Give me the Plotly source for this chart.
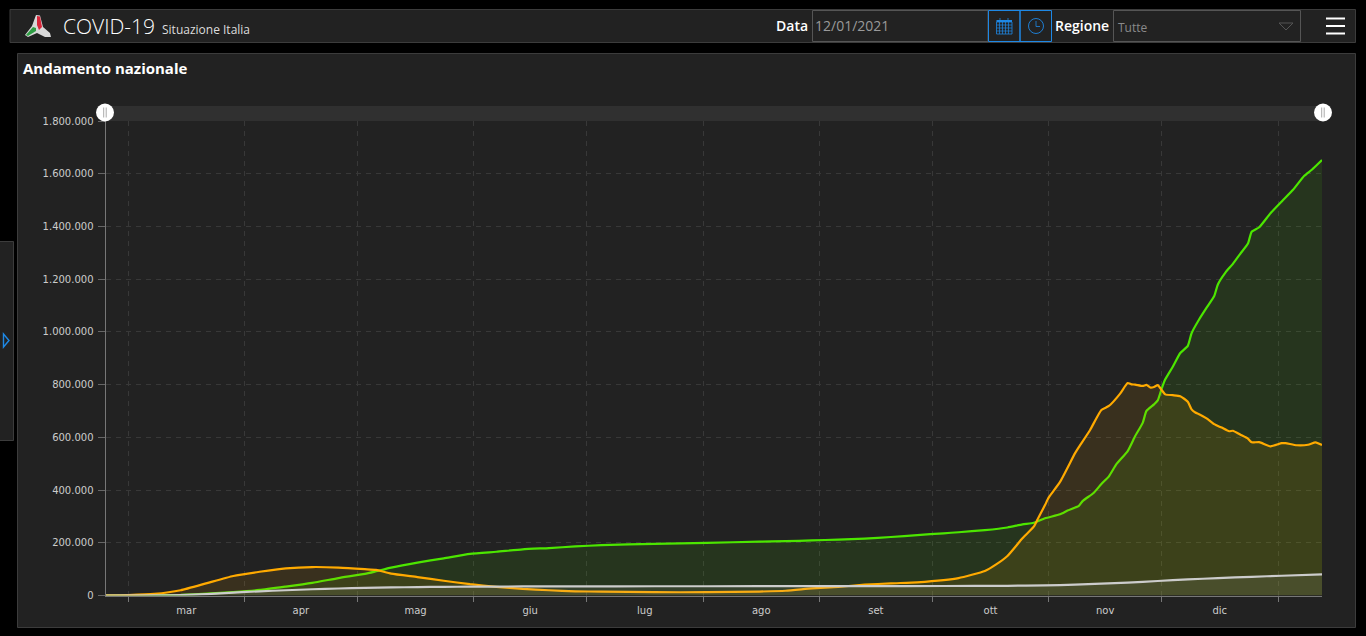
import plotly.graph_objects as go

W, H = 1366, 636

# orange: attualmente positivi
ORANGE_DATES = ["2020-02-24", "2020-03-01", "2020-03-08", "2020-03-15", "2020-03-22", "2020-03-29",
                "2020-04-05", "2020-04-12", "2020-04-19", "2020-04-26", "2020-05-03", "2020-05-06",
                "2020-05-10", "2020-05-17", "2020-05-24", "2020-05-31", "2020-06-07", "2020-06-14",
                "2020-06-21", "2020-06-28", "2020-07-05", "2020-07-19", "2020-08-02", "2020-08-16",
                "2020-08-23", "2020-08-30", "2020-09-06", "2020-09-13", "2020-09-20", "2020-09-27",
                "2020-10-04", "2020-10-08", "2020-10-15", "2020-10-18", "2020-10-21", "2020-10-25", "2020-10-28",
                "2020-10-29", "2020-10-31", "2020-11-01", "2020-11-04", "2020-11-08", "2020-11-09", "2020-11-12",
                "2020-11-15", "2020-11-17", "2020-11-20", "2020-11-22", "2020-11-23", "2020-11-24",
                "2020-11-26", "2020-11-27", "2020-11-28", "2020-11-29", "2020-11-30", "2020-12-01",
                "2020-12-02", "2020-12-04", "2020-12-06", "2020-12-08", "2020-12-09", "2020-12-10",
                "2020-12-11", "2020-12-13", "2020-12-15", "2020-12-17", "2020-12-19", "2020-12-20",
                "2020-12-22", "2020-12-24", "2020-12-25", "2020-12-27", "2020-12-30", "2021-01-02",
                "2021-01-03", "2021-01-06", "2021-01-09", "2021-01-11", "2021-01-12 17:00"]
ORANGE_VALUES = [200, 1500, 6000, 20000, 47000, 74000, 90000, 103000, 108000, 106000, 100000, 97000,
                 83000, 70000, 56000, 43000, 33000, 25000, 20000, 16000, 14500, 12500, 12500, 15000,
                 18000, 27000, 33000, 41000, 46000, 50000, 58000, 66000, 93000, 118000, 150000, 217000, 261000,
                 288000, 343000, 372000, 431000, 540000, 563000, 628000, 704000, 719000, 766000, 806000, 801000, 800000,
                 795000, 799000, 789000, 791000, 798000, 780000,
                 763000, 760000, 756000, 735000, 706000, 694000,
                 688000, 672000, 650000, 637000, 623000, 625000,
                 610000, 595000, 581000, 582000, 566000, 578000,
                 578000, 570000, 572000, 581000, 571000]

# green: dimessi guariti
GREEN_DATES = ["2020-02-24", "2020-03-01", "2020-03-08", "2020-03-15", "2020-03-22", "2020-03-29",
               "2020-04-05", "2020-04-12", "2020-04-19", "2020-04-26", "2020-05-03", "2020-05-06",
               "2020-05-10", "2020-05-17", "2020-05-24", "2020-05-31", "2020-06-07", "2020-06-14",
               "2020-06-21", "2020-06-28", "2020-07-05", "2020-07-19", "2020-08-02", "2020-08-16",
               "2020-08-23", "2020-08-30", "2020-09-06", "2020-09-13", "2020-09-20", "2020-09-27",
               "2020-10-04", "2020-10-08", "2020-10-15", "2020-10-21", "2020-10-25", "2020-10-28",
               "2020-10-31", "2020-11-04", "2020-11-06", "2020-11-09", "2020-11-10", "2020-11-13",
               "2020-11-15", "2020-11-17", "2020-11-19", "2020-11-22", "2020-11-24", "2020-11-26",
               "2020-11-27", "2020-11-29", "2020-11-30",
               "2020-12-01", "2020-12-02", "2020-12-04", "2020-12-06", "2020-12-08", "2020-12-09",
               "2020-12-11", "2020-12-13", "2020-12-15", "2020-12-16", "2020-12-18", "2020-12-20",
               "2020-12-22", "2020-12-24", "2020-12-25", "2020-12-27", "2020-12-30", "2021-01-02",
               "2021-01-05", "2021-01-08", "2021-01-10", "2021-01-12 17:00"]
GREEN_VALUES = [0, 100, 600, 2300, 7000, 13000, 21000, 34000, 48000, 66000, 82000, 92000,
                106000, 125000, 141000, 158000, 166000, 175000, 180000, 186000, 191000, 196000, 200000, 204000,
                206000, 209000, 212000, 216000, 222000, 229000, 236000, 240000, 248000, 258000, 270000, 276000,
                293000, 308000, 322000, 340000, 358000, 390000,
                423000, 452000, 498000, 548000, 605000, 655000,
                700000, 725000, 740000,
                783000, 820000, 868000, 920000, 947000, 995000,
                1047000, 1092000, 1135000, 1180000, 1225000, 1258000,
                1297000, 1335000, 1380000, 1397000, 1450000, 1495000,
                1539000, 1592000, 1615000, 1652000]

# grey: deceduti
GREY_DATES = ["2020-02-24", "2020-03-08", "2020-03-15", "2020-03-22", "2020-03-29", "2020-04-05",
              "2020-04-12", "2020-04-19", "2020-04-26", "2020-05-03", "2020-05-10", "2020-05-17",
              "2020-05-24", "2020-05-31", "2020-06-14", "2020-06-28", "2020-07-19", "2020-08-16",
              "2020-09-13", "2020-10-04", "2020-10-21", "2020-10-31", "2020-11-08", "2020-11-15",
              "2020-11-22", "2020-11-30", "2020-12-08", "2020-12-16", "2020-12-25", "2021-01-02",
              "2021-01-12 17:00"]
GREY_VALUES = [0, 400, 1800, 5500, 10800, 15900, 19900, 23700, 26600, 28900, 30500, 31900,
               32800, 33400, 34300, 34700, 35000, 35200, 35600, 36000, 36800, 38600, 41000, 45000,
               49000, 55000, 61000, 66000, 71000, 75000, 80000]

MONTHS = ["gen", "feb", "mar", "apr", "mag", "giu", "lug", "ago", "set", "ott", "nov", "dic"]
LONG_MONTHS = ["gennaio", "febbraio", "marzo", "aprile", "maggio", "giugno",
               "luglio", "agosto", "settembre", "ottobre", "novembre", "dicembre"]

BLUE = "#1e88e5"
BOX = "#555555"
PANEL = "#222222"
EDGE = "#3c3c3c"
GRID = "#383838"


def px(x):
    return x / W


def py(y):
    return 1 - y / H


def rect(x0, y0, x1, y1, fill="rgba(0,0,0,0)", line=None, width=1, layer="below"):
    return dict(type="rect", xref="paper", yref="paper", x0=px(x0), x1=px(x1), y0=py(y0), y1=py(y1),
                fillcolor=fill, line=dict(color=line or "rgba(0,0,0,0)", width=width if line else 0), layer=layer)


def seg(x0, y0, x1, y1, color, width=1, layer="below"):
    return dict(type="line", xref="paper", yref="paper", x0=px(x0), x1=px(x1), y0=py(y0), y1=py(y1),
                line=dict(color=color, width=width), layer=layer)


def poly(points, fill="rgba(0,0,0,0)", line=None, width=1, layer="above"):
    d = "M" + " L".join(f"{px(a):.5f},{py(b):.5f}" for a, b in points) + " Z"
    return dict(type="path", path=d, xref="paper", yref="paper", fillcolor=fill,
                line=dict(color=line or "rgba(0,0,0,0)", width=width if line else 0), layer=layer)


def circle(cx, cy, r, fill="rgba(0,0,0,0)", line=None, width=1, layer="above"):
    return dict(type="circle", xref="paper", yref="paper", x0=px(cx - r), x1=px(cx + r),
                y0=py(cy + r), y1=py(cy - r), fillcolor=fill,
                line=dict(color=line or "rgba(0,0,0,0)", width=width if line else 0), layer=layer)


def label(x, y, text, size, color="#ffffff", anchor="left", family="Open Sans", weight=400):
    # annotations sit about 2px inside their anchor
    return dict(xref="paper", yref="paper", x=px(x), y=py(y), text=text, showarrow=False,
                xanchor=anchor, yanchor="middle", xshift=-2 if anchor == "left" else 2,
                font=dict(size=size, color=color, family=family, weight=weight))


fig = go.Figure()
fig.add_trace(go.Scatter(x=GREEN_DATES, y=GREEN_VALUES, mode="lines", fill="tozeroy",
                         line=dict(color="#4ce600", width=2.2, shape="spline", smoothing=0.5),
                         fillcolor="rgba(76,230,0,0.1)"))
fig.add_trace(go.Scatter(x=ORANGE_DATES, y=ORANGE_VALUES, mode="lines", fill="tozeroy",
                         line=dict(color="#ffaa00", width=2.2, shape="spline", smoothing=0.5),
                         fillcolor="rgba(255,170,0,0.105)"))
fig.add_trace(go.Scatter(x=GREY_DATES, y=GREY_VALUES, mode="lines", fill="tozeroy",
                         line=dict(color="#cccccc", width=2.2, shape="spline", smoothing=0.5),
                         fillcolor="rgba(200,200,200,0.1)"))

shapes = [
    # panels
    rect(10, 9.5, 1355.5, 42.5, fill=PANEL, line=EDGE),
    rect(17.5, 53.5, 1355.5, 627.5, fill=PANEL, line=EDGE),
    rect(-2, 241.5, 13.5, 440.5, fill=PANEL, line=EDGE),
    poly([(3.5, 334), (9, 340.5), (3.5, 347)], line=BLUE, width=1.4),
    # slider band
    rect(105, 106, 1322, 121, fill="#303030"),
    seg(105.5, 112, 105.5, 121, "#777777"),
    # inputs
    rect(812.5, 10.5, 988, 41.5, line=BOX),
    rect(1113.5, 10.5, 1300.5, 41.5, line=BOX),
    rect(988.5, 10.5, 1020, 41.5, line=BLUE),
    rect(1020, 10.5, 1051.5, 41.5, line=BLUE),
    poly([(1279, 23), (1293, 23), (1286, 30)], line="#555555"),
    # calendar icon
    rect(996.5, 22, 1012, 34, line=BLUE, width=0.8),
    rect(996.5, 20, 1012, 22, fill=BLUE),
    seg(1000, 18, 1000, 20, BLUE, 0.8),
    seg(1008, 18, 1008, 20, BLUE, 0.8),
    # clock icon
    circle(1036, 26, 7.5, line=BLUE, width=0.9),
    seg(1036, 21, 1036, 26.5, BLUE, 0.8),
    seg(1036, 26.5, 1040, 26.5, BLUE, 0.8),
    # menu
    seg(1326, 18.5, 1345, 18.5, "#ffffff", 2),
    seg(1326, 26, 1345, 26, "#ffffff", 2),
    seg(1326, 33.5, 1345, 33.5, "#ffffff", 2),
    # logo
    poly([(36, 15), (40, 15.5), (43, 27), (50, 33), (51, 37), (45, 37), (37, 33), (28, 37), (25, 35), (32, 26)],
         fill="#d8d8d8"),
    poly([(37, 16), (40, 16.5), (42, 27), (39, 30), (37, 25)], fill="#d8263a"),
    poly([(26, 35), (33, 27), (36, 28), (36, 31), (28, 36)], fill="#2e9e44"),
    # slider handles
    circle(105, 112.5, 9, fill="#ffffff"),
    circle(1323, 112.5, 9, fill="#ffffff"),
    seg(103.7, 107.5, 103.7, 117.5, "#aaaaaa", layer="above"),
    seg(106.2, 107.5, 106.2, 117.5, "#aaaaaa", layer="above"),
    seg(1321.7, 107.5, 1321.7, 117.5, "#aaaaaa", layer="above"),
    seg(1324.2, 107.5, 1324.2, 117.5, "#aaaaaa", layer="above"),
]
# calendar grid
for gx in [999.5, 1002.5, 1005.5, 1008.5]:
    shapes.append(seg(gx, 22, gx, 34, BLUE, 0.7))
for gy in [25, 28, 31]:
    shapes.append(seg(996.5, gy, 1012, gy, BLUE, 0.7))

annotations = [
    label(63, 26, "COVID-19", 21, family="Open Sans", weight=300),
    label(162, 29, "Situazione Italia", 12, color="#dddddd"),
    label(23, 68, "Andamento nazionale", 15, weight=700),
    label(808, 26, "Data", 14, anchor="right", weight=600),
    label(815, 25.5, "12/01/2021", 14, color="#9a9a9a"),
    label(1055, 26, "Regione", 14, weight=600),
    label(1118, 27, "Tutte", 12, color="#8a8a8a"),
]

fig.update_layout(
    width=W, height=H, autosize=False,
    margin=dict(l=0, r=0, t=0, b=0, pad=0, autoexpand=False),
    paper_bgcolor="#000000", plot_bgcolor="rgba(0,0,0,0)",
    showlegend=False, separators=",.",
    shapes=shapes, annotations=annotations,
)
fig.update_xaxes(
    type="date", domain=[105.5 / W, 1322 / W], range=["2020-02-24", "2021-01-12 17:00"],
    dtick="M1", tick0="2020-03-01", tickformat="%b", ticklabelmode="period",
    ticks="outside", ticklen=5, tickcolor="#777777", tickfont=dict(family="DejaVu Sans", size=10, color="#cccccc"),
    showgrid=True, gridcolor=GRID, griddash="5px,5px", gridwidth=1,
    showline=True, linecolor="#777777", zeroline=False,
)
fig.update_yaxes(
    domain=[1 - 595.5 / H, 1 - 121 / H], range=[0, 1800000], dtick=200000, tickformat=",d",
    ticks="outside", ticklen=7, tickcolor="#666666", ticklabelstandoff=2,
    tickfont=dict(family="DejaVu Sans", size=10, color="#cccccc"),
    showgrid=True, gridcolor=GRID, griddash="5px,5px", gridwidth=1,
    showline=True, linecolor="#777777", zeroline=False,
)

locale_it = dict(name="it", dictionary={}, format=dict(
    months=LONG_MONTHS, shortMonths=MONTHS,
    days=["domenica", "lunedì", "martedì", "mercoledì", "giovedì", "venerdì", "sabato"],
    shortDays=["dom", "lun", "mar", "mer", "gio", "ven", "sab"],
    decimal=",", thousands="."))

fig.write_html("out.html",
               config=dict(displayModeBar=False, locale="it", locales=dict(it=locale_it)),
               post_script="document.body.style.margin='0';document.body.style.overflow='hidden';"
                           "document.body.style.background='#000';")
